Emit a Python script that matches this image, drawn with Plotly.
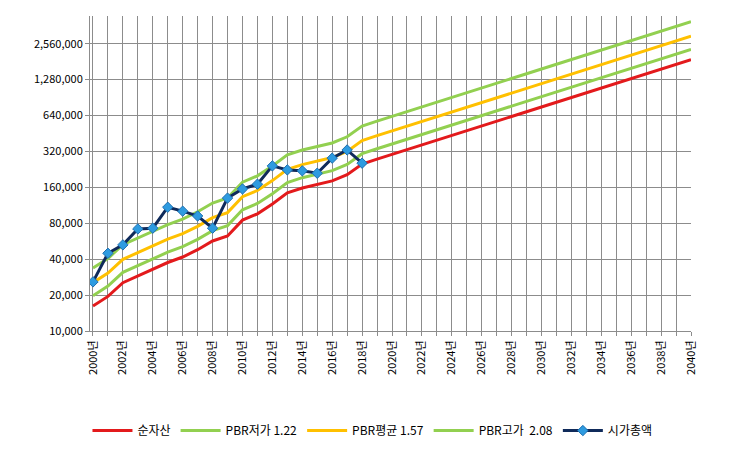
import plotly.graph_objects as go
import math

years = list(range(2000, 2041))
net_assets = [16200, 19500, 25400, 29000, 33000, 37500, 41700, 48000, 56800, 62600,
              85000, 96000, 116000, 144000, 158000, 170000, 181000, 204000, 251000,
              276000, 302000, 330000, 362000, 397000, 435000, 477000, 523000, 573000,
              628000, 688000, 754000, 826000, 905000, 992000, 1087000, 1191000, 1305000,
              1430000, 1567000, 1717000, 1880000]
pbr_low, pbr_avg, pbr_high = 1.22, 1.57, 2.08
cap_years = list(range(2000, 2019))
market_cap = [25800, 44800, 52700, 71700, 72700, 109000, 101000, 92000, 72700, 130000,
              155000, 170000, 242000, 224000, 220000, 210000, 281000, 329000, 255000]
ytick_vals = [10000, 20000, 40000, 80000, 160000, 320000, 640000, 1280000, 2560000]
xtick_vals = list(range(2000, 2041, 2))

fig = go.Figure()
fig.add_trace(go.Scatter(x=years, y=net_assets, name="순자산", mode="lines",
                         line=dict(color="#E31A1C", width=3)))
fig.add_trace(go.Scatter(x=years, y=[v * pbr_low for v in net_assets], name="PBR저가 1.22",
                         mode="lines", line=dict(color="#92D050", width=3)))
fig.add_trace(go.Scatter(x=years, y=[v * pbr_avg for v in net_assets], name="PBR평균 1.57",
                         mode="lines", line=dict(color="#FFC000", width=3)))
fig.add_trace(go.Scatter(x=years, y=[v * pbr_high for v in net_assets], name="PBR고가  2.08",
                         mode="lines", line=dict(color="#92D050", width=3)))
fig.add_trace(go.Scatter(x=cap_years, y=market_cap, name="시가총액", mode="lines+markers",
                         line=dict(color="#0F2A5A", width=3),
                         marker=dict(symbol="diamond", size=8, color="#2E9BE0",
                                     line=dict(color="#1F6FB0", width=1))))

font = "Noto Sans CJK KR, DejaVu Sans, sans-serif"
fig.update_layout(
    width=738, height=476, paper_bgcolor="white", plot_bgcolor="white",
    margin=dict(l=82, r=55, t=8, b=153),
    font=dict(family=font, size=11, color="black"),
    showlegend=True,
    legend=dict(orientation="h", x=0.47, xanchor="center", y=-0.27, yanchor="top",
                font=dict(size=12), itemwidth=40, tracegroupgap=30),
)
fig.update_xaxes(range=[1999.8, 2040], tickvals=xtick_vals,
                 ticktext=[f"{y}년" for y in xtick_vals], tickangle=-90,
                 showgrid=True, gridcolor="#8C8C8C", gridwidth=1,
                 minor=dict(dtick=1, showgrid=True, gridcolor="#8C8C8C", ticks="outside", ticklen=4),
                 showline=True, linecolor="#8C8C8C", ticks="outside", ticklen=4, tickcolor="#8C8C8C",
                 zeroline=False)
fig.update_yaxes(type="log", range=[4, math.log10(10000 * 2 ** 8.77)], tickvals=ytick_vals,
                 ticktext=[f"{v:,}" for v in ytick_vals],
                 showgrid=True, gridcolor="#8C8C8C", gridwidth=1,
                 showline=True, linecolor="#8C8C8C", ticks="outside", ticklen=4, tickcolor="#8C8C8C",
                 zeroline=False)
fig.write_html("out.html")
